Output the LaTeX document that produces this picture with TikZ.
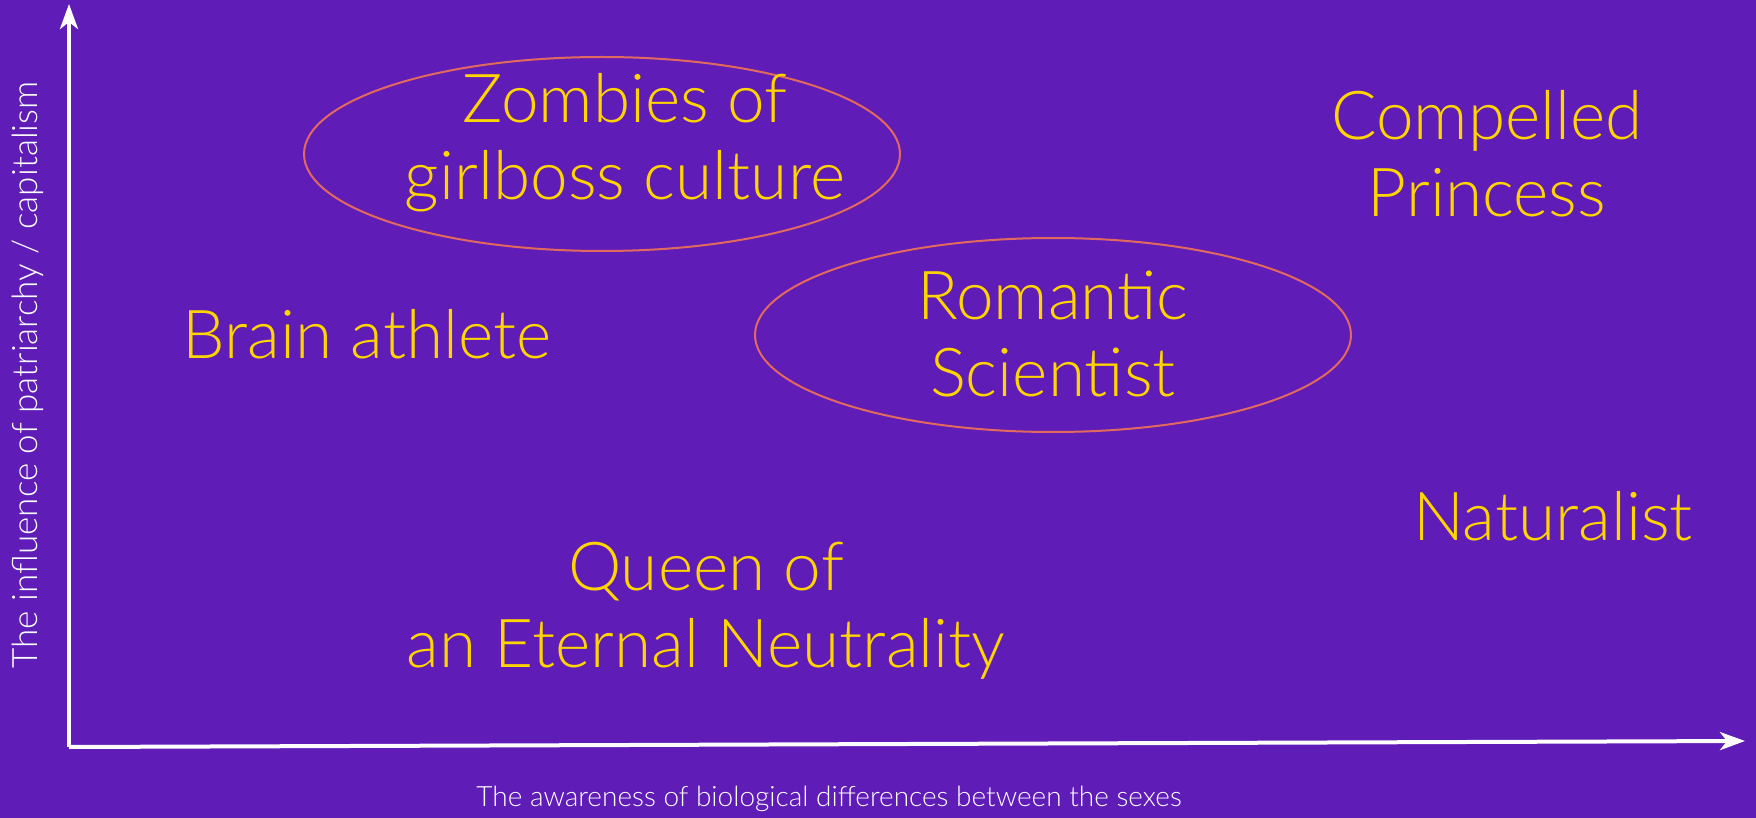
\documentclass[tikz,border=0pt]{standalone}
\usepackage{fontspec}
\setmainfont{Lato Light}
\usetikzlibrary{arrows.meta}
\definecolor{bgpurple}{HTML}{601CB6}
\definecolor{lblyellow}{HTML}{FFD500}
\definecolor{ringred}{HTML}{E2695E}
\begin{document}
\begin{tikzpicture}[x=1pt, y=-1pt,
	axis/.style={white, line width=4pt, -{Stealth[length=25pt,width=18pt,inset=7pt]}},
	axis label/.style={white, font=\fontsize{28}{32}\selectfont},
	type node/.style={lblyellow, align=center, inner sep=0pt, font=\fontsize{67.5}{77}\selectfont},
	ring/.style={draw=ringred, line width=2pt}]
	
	\useasboundingbox[fill=bgpurple] (0,0) rectangle (1756,818);
	
	% axes
	\coordinate (o) at (69,747);
	\coordinate (xend) at (1745,741);
	\coordinate (yend) at (69,4);
	\draw[axis] (o) -- (xend);
	\draw[axis] (o) -- (yend);
	\node[axis label] (xlabel) at (829,799) {The awareness of biological differences between the sexes};
	\node[axis label, font=\fontsize{35}{38}\selectfont, rotate=90] (ylabel) at (28,375) {The influence of patriarchy / capitalism};
	
	% the two circled types
	\draw[ring] (602,154) ellipse [x radius=298, y radius=97];
	\draw[ring] (1053,335) ellipse [x radius=298, y radius=97];
	
	\node[type node] (zombies) at (625,143) {Zombies of\\girlboss culture};
	\node[type node] (princess) at (1487,154) {Compelled\\Princess};
	\node[type node] (brain) at (367,334) {Brain athlete};
	\node[type node] (romantic) at (1053,334) {Romantic\\Scientist};
	\node[type node] (naturalist) at (1553,516) {Naturalist};
	\node[type node] (queen) at (706,611) {Queen of\\an Eternal Neutrality};
\end{tikzpicture}
\end{document}
